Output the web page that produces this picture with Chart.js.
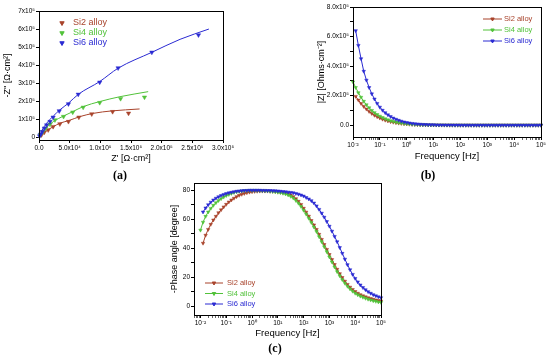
<!DOCTYPE html>
<html>
<head>
<meta charset="utf-8">
<script src="https://cdn.jsdelivr.net/npm/chart.js@4.4.1/dist/chart.umd.min.js"></script>
<style>
  body { margin: 0; background: #fff; width: 550px; height: 357px; position: relative; overflow: hidden; }
  canvas { position: absolute; }
  .cap { position: absolute; transform: translate(-50%, -50%); font-family: "Liberation Serif", "DejaVu Serif", serif; font-weight: bold; font-size: 12px; color: #000; }
</style>
</head>
<body>
<canvas id="nyquist" width="240" height="168" style="left:0;top:0"></canvas>
<canvas id="bode" width="238" height="168" style="left:312px;top:0"></canvas>
<canvas id="phase" width="240" height="167" style="left:160px;top:176px"></canvas>
<div class="cap" style="left:120px;top:175px">(a)</div>
<div class="cap" style="left:428px;top:175px">(b)</div>
<div class="cap" style="left:275px;top:348px">(c)</div>
<script>
const seriesNames = ['Si2 alloy', 'Si4 alloy', 'Si6 alloy'];
const seriesColors = ['#a8432b', '#52c23a', '#2a2ad2'];

// Nyquist (a), values in ohm.cm2
const nyqSi2Re = [4000, 8700, 15000, 23000, 34000, 48000, 65000, 86000, 120000, 146000];
const nyqSi2Im = [13000, 28000, 41000, 59000, 74000, 87000, 111000, 129000, 142000, 133000];
const nyqSi4Re = [2000, 6000, 11000, 18000, 26000, 40000, 55000, 72000, 99000, 133000, 172000];
const nyqSi4Im = [13000, 30000, 50000, 72000, 96000, 115000, 139000, 166000, 192000, 214000, 222000];
const nyqSi6Re = [1000, 2700, 5400, 8700, 12500, 18000, 23000, 33000, 48000, 64000, 99000, 129000, 184000, 260000];
const nyqSi6Im = [7000, 17000, 31000, 50000, 68000, 87000, 111000, 146000, 185000, 238000, 305000, 384000, 471000, 567000];

// fitted curves (a)
const fitSi2Re = [0, 4300, 12500, 23400, 34000, 48000, 67000, 89000, 118000, 164000];
const fitSi2Im = [0, 17000, 37000, 59000, 78000, 92000, 115000, 133000, 146000, 157000];
const fitSi4Re = [0, 4300, 12500, 23400, 40000, 55000, 72000, 99000, 132000, 178000];
const fitSi4Im = [0, 26000, 55000, 87000, 118000, 142000, 170000, 198000, 225000, 253000];
const fitSi6Re = [0, 4300, 12500, 23400, 34000, 48000, 64000, 99000, 129000, 184000, 230000, 277000];
const fitSi6Im = [0, 35000, 78000, 118000, 152000, 189000, 238000, 309000, 383000, 471000, 543000, 600000];

const nyqXTicks = [0, 50000, 100000, 150000, 200000, 250000, 300000];
const nyqXTickLabels = ['0.0', '5.0x10⁴', '1.0x10⁵', '1.5x10⁵', '2.0x10⁵', '2.5x10⁵', '3.0x10⁵'];
const nyqYTicks = [0, 100000, 200000, 300000, 400000, 500000, 600000, 700000];
const nyqYTickLabels = ['0', '1x10⁵', '2x10⁵', '3x10⁵', '4x10⁵', '5x10⁵', '6x10⁵', '7x10⁵'];

// Bode, frequency sweep
const freqHz = [
  0.01, 0.01259, 0.01585, 0.01995, 0.02512, 0.03162, 0.03981, 0.05012, 0.0631, 0.07943,
  0.1, 0.1259, 0.1585, 0.1995, 0.2512, 0.3162, 0.3981, 0.5012, 0.631, 0.7943,
  1, 1.259, 1.585, 1.995, 2.512, 3.162, 3.981, 5.012, 6.31, 7.943,
  10, 12.59, 15.85, 19.95, 25.12, 31.62, 39.81, 50.12, 63.1, 79.43,
  100, 125.9, 158.5, 199.5, 251.2, 316.2, 398.1, 501.2, 631, 794.3,
  1000, 1259, 1585, 1995, 2512, 3162, 3981, 5012, 6310, 7943,
  10000, 12590, 15850, 19950, 25120, 31620, 39810, 50120, 63100, 79430,
  100000
];

// |Z| (b)
const zSi2 = [
  null, 195000, 170000, 147000, 127000, 109000, 93000, 79000, 67000, 57000,
  48000, 40500, 34000, 28500, 24000, 20000, 16700, 13900, 11500, 9600,
  7900, 6500, 5400, 4400, 3600, 3000, 2400, 2000, 1600, 1300,
  1080, 880, 720, 590, 480, 395, 325, 265, 218, 180,
  148, 122, 101, 84, 70, 59, 50, 43, 37, 33,
  29.5, 27, 25, 23.5, 22.4, 21.6, 21, 20.6, 20.3, 20.1,
  20, 19.9, 19.9, 19.8, 19.8, 19.8, 19.8, 19.8, 19.8, 19.8,
  19.8
];
const zSi4 = [
  293000, 255000, 220000, 189000, 162000, 138000, 118000, 100000, 85000, 72000,
  61000, 51500, 43500, 36500, 30500, 25500, 21000, 17500, 14500, 12000,
  9900, 8100, 6600, 5400, 4400, 3600, 2900, 2400, 1950, 1600,
  1300, 1060, 870, 710, 580, 470, 385, 315, 255, 210,
  170, 140, 115, 95, 78, 65, 54, 46, 39, 34,
  30, 27, 24.5, 22.5, 21, 20, 19.2, 18.7, 18.3, 18,
  17.8, 17.7, 17.6, 17.6, 17.5, 17.5, 17.5, 17.5, 17.5, 17.5,
  17.5
];
const zSi6 = [
  null, 640000, 540000, 450000, 365000, 305000, 255000, 212000, 177000, 147000,
  122000, 101000, 84000, 70000, 58000, 48000, 40000, 33000, 27000, 22000,
  18000, 14700, 12000, 9800, 8000, 6500, 5300, 4300, 3500, 2900,
  2350, 1920, 1570, 1280, 1050, 860, 710, 580, 480, 395,
  325, 270, 222, 183, 152, 127, 106, 89, 76, 65,
  56, 49, 43, 38.5, 35, 32, 30, 28.5, 27, 26,
  25, 24.5, 24, 23.8, 23.5, 23.3, 23.2, 23.1, 23, 23,
  23
];

// -phase angle (c), degrees
const phSi2 = [
  null, 43.5, 49, 53, 56.5, 59.5, 62, 64.5, 66.5, 68.5,
  70.3, 71.9, 73.3, 74.5, 75.6, 76.5, 77.2, 77.8, 78.3, 78.7,
  79.0, 79.2, 79.3, 79.4, 79.4, 79.4, 79.4, 79.3, 79.3, 79.2,
  79.0, 78.8, 78.5, 78.1, 77.5, 76.7, 75.6, 74.2, 72.4, 70.2,
  67.6, 64.9, 62.1, 59.1, 56.1, 53.0, 49.6, 46.1, 42.6, 39.2,
  35.7, 32.2, 28.8, 25.5, 22.5, 19.8, 17.3, 15.1, 13.2, 11.6,
  10.2, 9.0, 8.0, 7.2, 6.5, 5.9, 5.3, 4.8, 4.4, 4.0,
  3.6
];
const phSi4 = [
  52.5, 58, 62, 65, 67.5, 69.6, 71.4, 72.9, 74.2, 75.3,
  76.3, 77.1, 77.8, 78.4, 78.9, 79.2, 79.5, 79.7, 79.8, 79.9,
  79.9, 79.9, 79.9, 79.8, 79.7, 79.6, 79.5, 79.3, 79.1, 78.9,
  78.6, 78.3, 77.9, 77.4, 76.7, 75.8, 74.6, 73.0, 71.1, 68.8,
  66.2, 63.5, 60.7, 57.7, 54.6, 51.5, 48.0, 44.5, 41.0, 37.6,
  34.0, 30.5, 27.1, 23.9, 21.0, 18.3, 15.9, 13.8, 12.0, 10.4,
  9.0, 7.9, 7.0, 6.2, 5.5, 4.9, 4.3, 3.8, 3.4, 3.0,
  2.7
];
const phSi6 = [
  null, 65.0, 67.8, 70.0, 71.8, 73.3, 74.5, 75.5, 76.4, 77.1,
  77.7, 78.2, 78.6, 79.0, 79.3, 79.5, 79.7, 79.8, 79.9, 80.0,
  80.0, 80.0, 80.0, 80.0, 79.9, 79.9, 79.8, 79.8, 79.7, 79.6,
  79.5, 79.3, 79.1, 78.9, 78.7, 78.5, 78.2, 77.8, 77.3, 76.7,
  76.0, 75.0, 74.0, 72.8, 71.2, 69.2, 66.8, 64.2, 61.4, 58.4,
  55.2, 51.8, 48.2, 44.5, 40.5, 36.5, 32.5, 28.7, 25.2, 22.0,
  19.2, 16.8, 14.7, 12.9, 11.4, 10.1, 9.0, 8.0, 7.2, 6.5,
  5.9
];

const freqTickLabels = ['10⁻²', '10⁻¹', '10⁰', '10¹', '10²', '10³', '10⁴', '10⁵'];
const zTicks = [-0, 100000, 200000, 300000, 400000, 500000, 600000, 700000, 800000];
const zTickLabels = ['0.0', '', '2.0x10⁵', '', '4.0x10⁵', '', '6.0x10⁵', '', '8.0x10⁵'];
const phTicks = [0, 10, 20, 30, 40, 50, 60, 70, 80];
const phTickLabels = ['0', '', '20', '', '40', '', '60', '', '80'];

Chart.defaults.font.family = '"Liberation Sans", Arial, sans-serif';
Chart.defaults.color = '#000';
Chart.defaults.animation = false;

function decadeLabel(v) {
  const e = Math.log10(v);
  const r = Math.round(e);
  return Math.abs(e - r) < 1e-6 ? freqTickLabels[r + 2] : '';
}

function logTicks(min, max) {
  const t = [];
  for (let e = -3; e <= 5; e++) {
    for (let m = 1; m <= 9; m++) {
      const v = m * Math.pow(10, e);
      if (v >= min * 0.999 && v <= max * 1.001) t.push({ value: v });
    }
  }
  return t;
}

function pairs(xs, ys) {
  return xs.map((x, i) => ({ x: x, y: ys[i] }));
}

// frame round the plot area
const frame = {
  id: 'frame',
  afterDraw(chart) {
    const { ctx, chartArea: a } = chart;
    ctx.save();
    ctx.strokeStyle = '#000';
    ctx.lineWidth = 1;
    ctx.strokeRect(Math.round(a.left) + 0.5, Math.round(a.top) + 0.5,
      Math.round(a.right - a.left), Math.round(a.bottom - a.top));
    ctx.restore();
  }
};

// legend drawn inside the plot
const insideLegend = {
  id: 'insideLegend',
  afterDraw(chart, args, o) {
    if (!o.items) return;
    const { ctx, chartArea: a } = chart;
    ctx.save();
    ctx.font = o.fontSize + 'px "Liberation Sans", Arial, sans-serif';
    ctx.textBaseline = 'middle';
    o.items.forEach((label, i) => {
      const y = a.top + o.y + i * o.gap;
      const x = a.left + o.x;
      const c = seriesColors[i];
      ctx.strokeStyle = c;
      ctx.fillStyle = c;
      ctx.lineWidth = 1;
      if (o.lineLen) {
        ctx.beginPath();
        ctx.moveTo(x, y);
        ctx.lineTo(x + o.lineLen, y);
        ctx.stroke();
      }
      Chart.helpers.drawPoint(ctx, { pointStyle: 'triangle', rotation: 180, radius: o.radius, borderWidth: 0.5 },
        x + (o.lineLen ? o.lineLen / 2 : 0), y);
      ctx.fillStyle = c;
      ctx.fillText(label, x + o.textX, y);
    });
    ctx.restore();
  }
};

function fixX(h) {
  return s => { s.height = h; s.paddingLeft = 0; s.paddingRight = 0; };
}
function fixY(w) {
  return s => { s.width = w; s.paddingTop = 0; s.paddingBottom = 0; };
}

const tickFont = { size: 6.5 };
const titleFont = { size: 9 };

function marks(i, radius) {
  return {
    borderColor: seriesColors[i],
    backgroundColor: seriesColors[i],
    pointStyle: 'triangle',
    rotation: 180,
    pointRadius: radius,
    pointBorderWidth: 0.5,
    borderWidth: 1,
    order: 3 - i,
    clip: false
  };
}

// (a) Nyquist
new Chart(document.getElementById('nyquist'), {
  type: 'scatter',
  data: {
    datasets: [
      Object.assign({ data: pairs(fitSi2Re, fitSi2Im), showLine: true, pointRadius: 0, cubicInterpolationMode: 'monotone' }, marks(0, 0), { pointRadius: 0 }),
      Object.assign({ data: pairs(fitSi4Re, fitSi4Im), showLine: true, cubicInterpolationMode: 'monotone' }, marks(1, 0), { pointRadius: 0 }),
      Object.assign({ data: pairs(fitSi6Re, fitSi6Im), showLine: true, cubicInterpolationMode: 'monotone' }, marks(2, 0), { pointRadius: 0 }),
      Object.assign({ data: pairs(nyqSi2Re, nyqSi2Im) }, marks(0, 2.5)),
      Object.assign({ data: pairs(nyqSi4Re, nyqSi4Im) }, marks(1, 2.5)),
      Object.assign({ data: pairs(nyqSi6Re, nyqSi6Im) }, marks(2, 2.5))
    ]
  },
  plugins: [frame, insideLegend],
  options: {
    responsive: false,
    layout: { padding: { left: 0, top: 11, right: 17, bottom: 0 } },
    plugins: {
      legend: { display: false },
      tooltip: { enabled: false },
      insideLegend: { items: seriesNames, x: 23, y: 12, gap: 10, textX: 11, radius: 2.5, fontSize: 9, lineLen: 0 }
    },
    scales: {
      x: {
        type: 'linear', min: 0, max: 300000,
        afterBuildTicks: s => { s.ticks = nyqXTicks.map(v => ({ value: v })); },
        afterFit: fixX(28),
        ticks: { callback: (v, i) => nyqXTickLabels[i], autoSkip: false, maxRotation: 0, padding: 1, font: tickFont },
        grid: { drawOnChartArea: false, tickLength: 3, color: '#000' },
        border: { display: false },
        title: { display: true, text: "Z' [Ω·cm²]", font: titleFont, padding: { top: 0, bottom: 4 } }
      },
      y: {
        type: 'linear', min: -15000, max: 700000,
        afterBuildTicks: s => { s.ticks = nyqYTicks.map(v => ({ value: v })); },
        afterFit: fixY(39),
        ticks: { callback: (v, i) => nyqYTickLabels[i], autoSkip: false, padding: 1, font: tickFont },
        grid: { drawOnChartArea: false, tickLength: 3, color: '#000' },
        border: { display: false },
        title: { display: true, text: "-Z'' [Ω·cm²]", font: titleFont, padding: { top: 2, bottom: 0 } }
      }
    }
  }
});

// (b) |Z|
new Chart(document.getElementById('bode'), {
  type: 'line',
  data: {
    datasets: [
      Object.assign({ data: pairs(freqHz, zSi2) }, marks(0, 2)),
      Object.assign({ data: pairs(freqHz, zSi4) }, marks(1, 2)),
      Object.assign({ data: pairs(freqHz, zSi6) }, marks(2, 2))
    ]
  },
  plugins: [frame, insideLegend],
  options: {
    responsive: false,
    layout: { padding: { left: 0, top: 7, right: 9, bottom: 0 } },
    plugins: {
      legend: { display: false },
      tooltip: { enabled: false },
      insideLegend: { items: seriesNames, x: 130, y: 12, gap: 11, textX: 21, lineLen: 19, radius: 2, fontSize: 7.5 }
    },
    scales: {
      x: {
        type: 'logarithmic', min: 0.01, max: 100000,
        afterBuildTicks: s => { s.ticks = logTicks(0.01, 100000); },
        afterFit: fixX(31),
        ticks: { callback: v => decadeLabel(v), autoSkip: false, maxRotation: 0, padding: 1, font: tickFont },
        grid: { drawOnChartArea: false, tickLength: 3, color: '#000', tickWidth: c => decadeLabel(c.tick.value) ? 1 : 0.6 },
        border: { display: false },
        title: { display: true, text: 'Frequency [Hz]', font: { size: 9.5 }, padding: { top: 0, bottom: 6 } }
      },
      y: {
        type: 'linear', min: -80000, max: 800000,
        afterBuildTicks: s => { s.ticks = zTicks.map(v => ({ value: v })); },
        afterFit: fixY(41),
        ticks: { callback: (v, i) => zTickLabels[i], autoSkip: false, padding: 1, font: tickFont },
        grid: { drawOnChartArea: false, tickLength: 3, color: '#000' },
        border: { display: false },
        title: { display: true, text: '|Z| [Ohms·cm⁻²]', font: titleFont, padding: { top: 4, bottom: 0 } }
      }
    }
  }
});

// (c) phase angle
new Chart(document.getElementById('phase'), {
  type: 'line',
  data: {
    datasets: [
      Object.assign({ data: pairs(freqHz, phSi2) }, marks(0, 2)),
      Object.assign({ data: pairs(freqHz, phSi4) }, marks(1, 2)),
      Object.assign({ data: pairs(freqHz, phSi6) }, marks(2, 2))
    ]
  },
  plugins: [frame, insideLegend],
  options: {
    responsive: false,
    layout: { padding: { left: 0, top: 7, right: 19, bottom: 0 } },
    plugins: {
      legend: { display: false },
      tooltip: { enabled: false },
      insideLegend: { items: seriesNames, x: 11, y: 100, gap: 10.5, textX: 22, lineLen: 18, radius: 2, fontSize: 7.5 }
    },
    scales: {
      x: {
        type: 'logarithmic', min: 0.00562, max: 100000,
        afterBuildTicks: s => { s.ticks = logTicks(0.00562, 100000); },
        afterFit: fixX(28),
        ticks: { callback: v => decadeLabel(v), autoSkip: false, maxRotation: 0, padding: 1, font: tickFont },
        grid: { drawOnChartArea: false, tickLength: 3, color: '#000', tickWidth: c => decadeLabel(c.tick.value) ? 1 : 0.6 },
        border: { display: false },
        title: { display: true, text: 'Frequency [Hz]', font: { size: 9.5 }, padding: { top: 0, bottom: 4 } }
      },
      y: {
        type: 'linear', min: -6, max: 85,
        afterBuildTicks: s => { s.ticks = phTicks.map(v => ({ value: v })); },
        afterFit: fixY(34),
        ticks: { callback: (v, i) => phTickLabels[i], autoSkip: false, padding: 1, font: tickFont },
        grid: { drawOnChartArea: false, tickLength: 3, color: '#000' },
        border: { display: false },
        title: { display: true, text: '-Phase angle [degree]', font: titleFont, padding: { top: 9, bottom: 0 } }
      }
    }
  }
});
</script>
</body>
</html>
